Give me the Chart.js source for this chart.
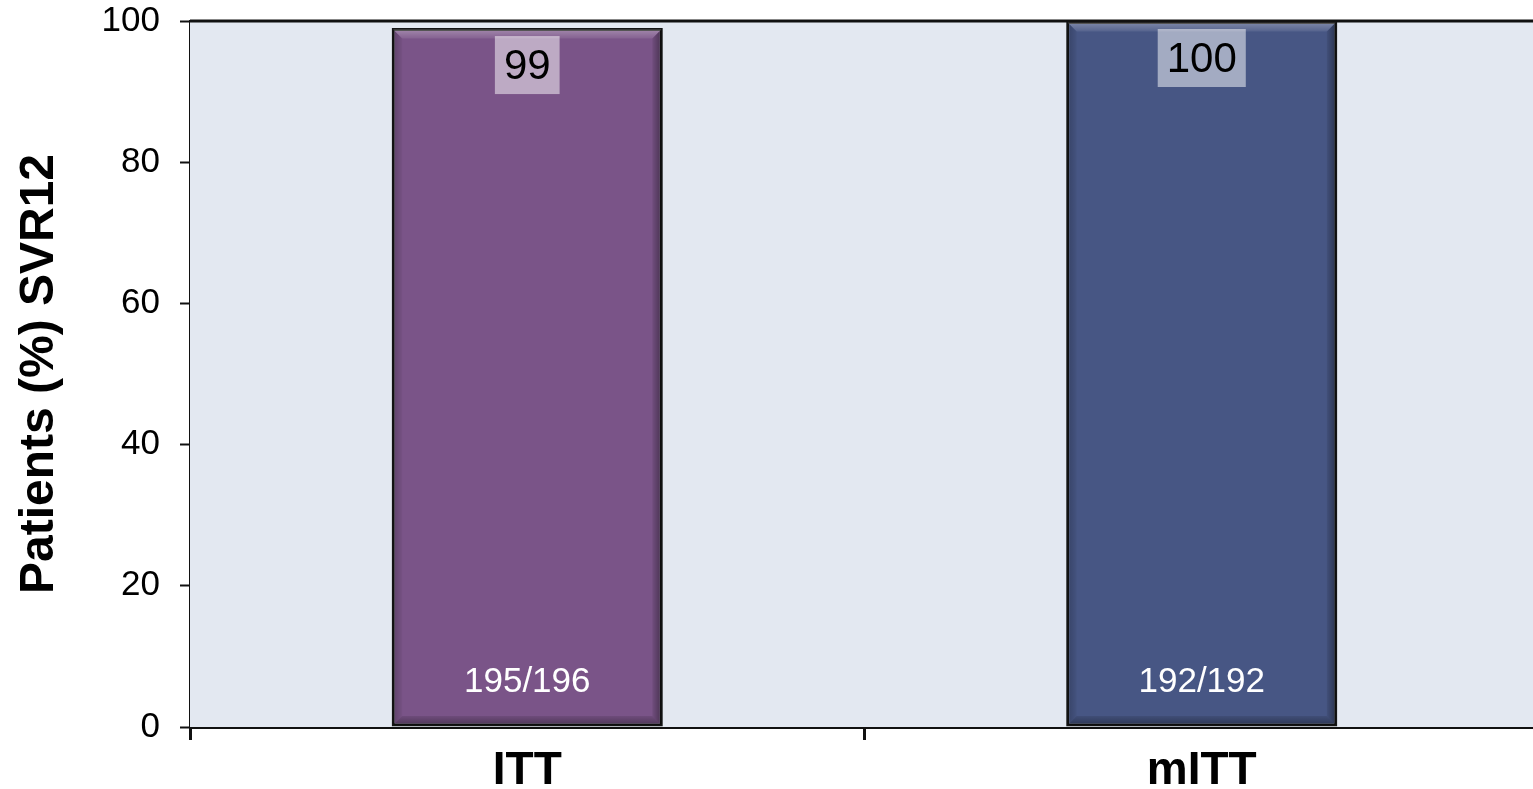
<!DOCTYPE html>
<html>
<head>
<meta charset="utf-8">
<title>Patients (%) SVR12</title>
<script src="https://cdn.jsdelivr.net/npm/chart.js@4/dist/chart.umd.min.js"></script>
<style>
  html, body { margin: 0; padding: 0; background: #ffffff; overflow: hidden; }
  #wrap { width: 1533px; height: 789px; position: relative; overflow: hidden; }
  #chart { display: block; }
</style>
</head>
<body>
<!-- the plot runs slightly past the right edge of the frame -->
<div id="wrap"><canvas id="chart" width="1539" height="789"></canvas></div>
<script>
// Analysis populations and their SVR12 rates
const categories = ['ITT', 'mITT'];
const svrPercent = [99, 100];
const responderCounts = ['195/196', '192/192'];
const yTicks = [0, 20, 40, 60, 80, 100];
const yTitle = 'Patients (%) SVR12';

// Appearance
const barFills = ['#7a5488', '#475684'];
const plotBackground = '#e3e8f1';
const FONT = "'Liberation Sans', Arial, Helvetica, sans-serif";

// Shaded plot area and the heavy rule along its top edge
const plotAreaPlugin = {
  id: 'plotArea',
  beforeDatasetsDraw(chart) {
    const { ctx, chartArea: a } = chart;
    ctx.save();
    ctx.fillStyle = plotBackground;
    ctx.fillRect(a.left, a.top, a.right - a.left, a.bottom - a.top);
    ctx.restore();
  },
  afterDraw(chart) {
    const { ctx, chartArea: a } = chart;
    ctx.save();
    ctx.strokeStyle = '#111111';
    ctx.lineWidth = 3;
    ctx.beginPath();
    ctx.moveTo(a.left, a.top);
    ctx.lineTo(a.right, a.top);
    ctx.stroke();
    ctx.restore();
  }
};

// Bevelled bar faces plus the value and responder labels
const barDecorPlugin = {
  id: 'barDecor',
  afterDatasetsDraw(chart) {
    const { ctx } = chart;
    const meta = chart.getDatasetMeta(0);
    meta.data.forEach((bar, i) => {
      const p = bar.getProps(['x', 'y', 'base', 'width'], true);
      const L = p.x - p.width / 2 + 1.5, R = p.x + p.width / 2 - 1.5;
      const T = p.y + 1.5, B = p.base - 1.5;
      const b = 9;
      ctx.save();
      // top bevel (lit)
      let g = ctx.createLinearGradient(0, T, 0, T + b);
      g.addColorStop(0, 'rgba(255,255,255,0.30)');
      g.addColorStop(1, 'rgba(255,255,255,0.08)');
      ctx.fillStyle = g;
      ctx.beginPath();
      ctx.moveTo(L, T); ctx.lineTo(R, T); ctx.lineTo(R - b, T + b); ctx.lineTo(L + b, T + b);
      ctx.closePath(); ctx.fill();
      // bottom bevel (shaded)
      g = ctx.createLinearGradient(0, B - b, 0, B);
      g.addColorStop(0, 'rgba(0,0,0,0.10)');
      g.addColorStop(1, 'rgba(0,0,0,0.35)');
      ctx.fillStyle = g;
      ctx.beginPath();
      ctx.moveTo(L, B); ctx.lineTo(R, B); ctx.lineTo(R - b, B - b); ctx.lineTo(L + b, B - b);
      ctx.closePath(); ctx.fill();
      // right bevel (shaded)
      g = ctx.createLinearGradient(R - b, 0, R, 0);
      g.addColorStop(0, 'rgba(0,0,0,0.08)');
      g.addColorStop(1, 'rgba(0,0,0,0.40)');
      ctx.fillStyle = g;
      ctx.beginPath();
      ctx.moveTo(R, T); ctx.lineTo(R, B); ctx.lineTo(R - b, B - b); ctx.lineTo(R - b, T + b);
      ctx.closePath(); ctx.fill();
      // left bevel (slight shade)
      g = ctx.createLinearGradient(L, 0, L + b, 0);
      g.addColorStop(0, 'rgba(0,0,0,0.22)');
      g.addColorStop(1, 'rgba(0,0,0,0.04)');
      ctx.fillStyle = g;
      ctx.beginPath();
      ctx.moveTo(L, T); ctx.lineTo(L, B); ctx.lineTo(L + b, B - b); ctx.lineTo(L + b, T + b);
      ctx.closePath(); ctx.fill();

      // value label in a translucent box near the bar top
      const valueText = String(svrPercent[i]);
      ctx.font = '42px ' + FONT;
      const tw = ctx.measureText(valueText).width;
      const boxW = tw + 18, boxH = 58;
      const boxTop = p.y + 8;
      ctx.fillStyle = 'rgba(255,255,255,0.5)';
      ctx.fillRect(p.x - boxW / 2, boxTop, boxW, boxH);
      ctx.fillStyle = '#000000';
      ctx.textAlign = 'center';
      ctx.textBaseline = 'middle';
      ctx.fillText(valueText, p.x, boxTop + boxH / 2 + 2);

      // responder count near the bar base
      ctx.font = '35px ' + FONT;
      ctx.fillStyle = '#ffffff';
      ctx.fillText(responderCounts[i], p.x, p.base - 44);
      ctx.restore();
    });
  }
};

new Chart(document.getElementById('chart'), {
  type: 'bar',
  data: {
    labels: categories,
    datasets: [{
      data: svrPercent,
      backgroundColor: barFills,
      borderColor: '#141414',
      borderWidth: 3,
      borderSkipped: false,
      categoryPercentage: 1.0,
      barPercentage: 0.402
    }]
  },
  options: {
    responsive: false,
    animation: false,
    devicePixelRatio: 1,
    layout: { padding: { top: 21, right: 0, bottom: 0, left: 0 } },
    plugins: {
      legend: { display: false },
      tooltip: { enabled: false }
    },
    scales: {
      x: {
        grid: {
          offset: true,
          drawOnChartArea: false,
          drawTicks: true,
          tickLength: 13,
          tickWidth: 3,
          tickColor: '#111111'
        },
        border: { display: true, color: '#111111', width: 3 },
        ticks: {
          color: '#000000',
          padding: 4,
          font: { family: FONT, size: 46, weight: 'bold' }
        },
        afterFit(scale) {
          scale.height = 62;
          scale.paddingLeft = 0;
          scale.paddingRight = 0;
        }
      },
      y: {
        min: 0,
        max: 100,
        afterBuildTicks(scale) { scale.ticks = yTicks.map(v => ({ value: v })); },
        grid: {
          drawOnChartArea: false,
          drawTicks: true,
          tickLength: 10,
          tickWidth: 2,
          tickColor: '#111111'
        },
        border: { display: true, color: '#111111', width: 2 },
        ticks: {
          color: '#000000',
          padding: 20,
          font: { family: FONT, size: 35 }
        },
        title: {
          display: true,
          text: yTitle,
          color: '#000000',
          padding: { top: 11, bottom: 0 },
          font: { family: FONT, size: 48, weight: 'bold' }
        },
        afterFit(scale) {
          scale.width = 190;
          scale.paddingTop = 0;
          scale.paddingBottom = 0;
        }
      }
    }
  },
  plugins: [plotAreaPlugin, barDecorPlugin]
});
</script>
</body>
</html>
